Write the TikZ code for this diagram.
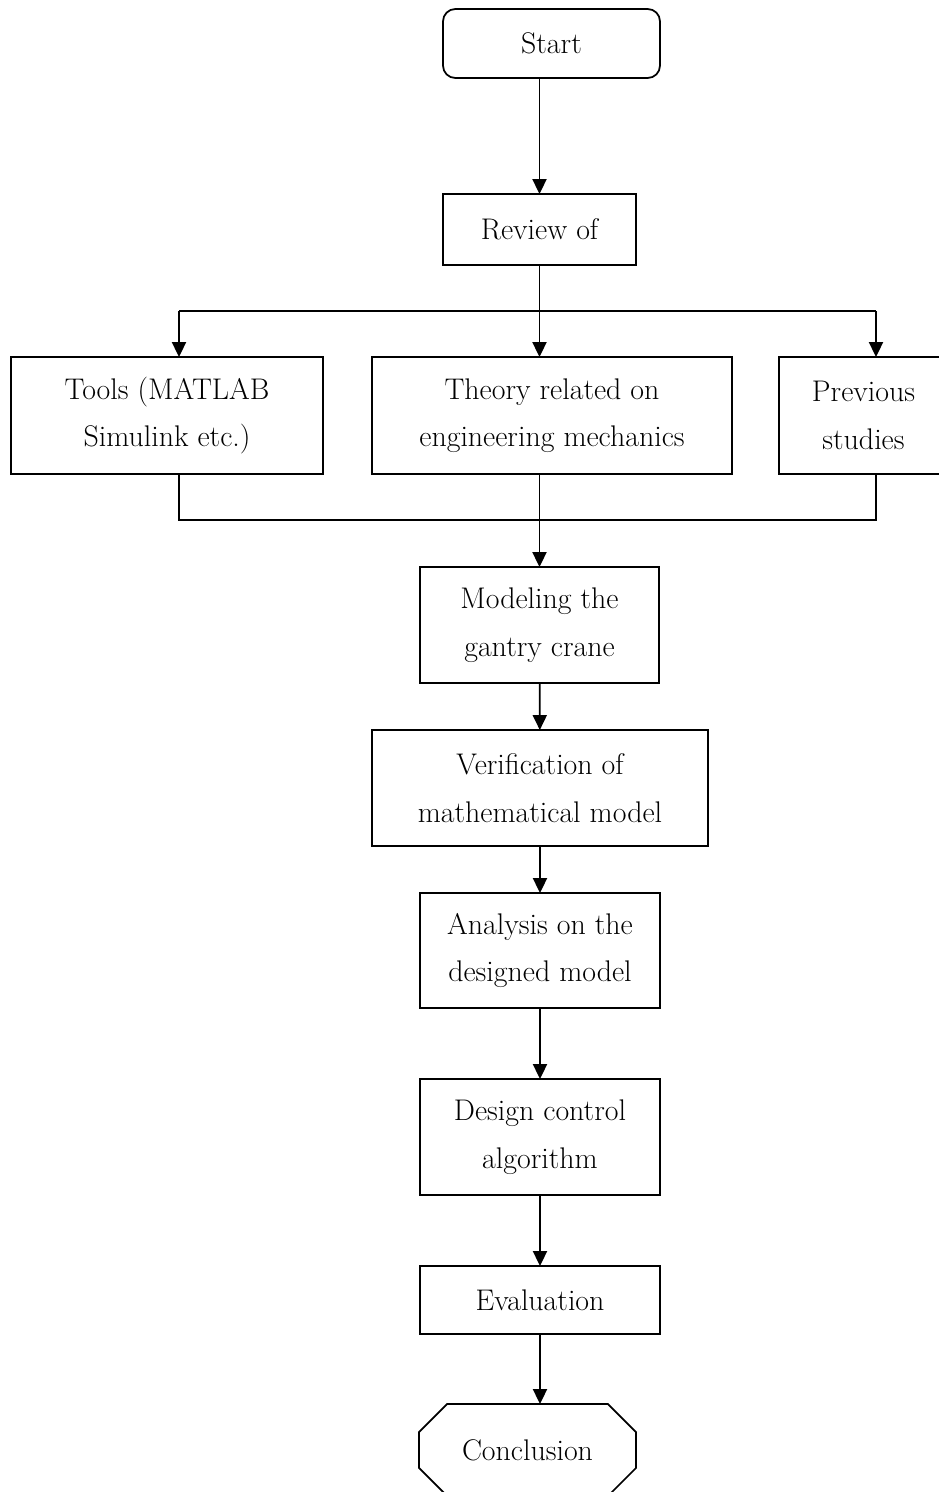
\documentclass[tikz,border=0pt]{standalone}
\usepackage{tikz}
\usetikzlibrary{arrows.meta, positioning, calc}

\tikzset{
  stepbox/.style={draw, line width=1pt, inner sep=0pt, outer sep=0pt, align=center, font=\fontsize{17}{27}\selectfont},
  flowline/.style={line width=1pt},
  flowarrow/.style={line width=1pt, -{Triangle[length=8.5pt, width=8pt]}}
}

\begin{document}
\begin{tikzpicture}[x=0.02cm, y=-0.02cm]
  \useasboundingbox (0,0) rectangle (938,1492);

  % Start and review
  \node[stepbox, rounded corners=7pt, minimum width=4.34cm, minimum height=1.38cm] (start) at (551.5, 43.5) {Start};
  \node[stepbox, minimum width=3.86cm, minimum height=1.42cm] (review) at (539.5, 229.5) {Review of};

  % Three sources
  \node[stepbox, minimum width=6.24cm, minimum height=2.34cm] (tools) at (167, 415.5) {Tools (MATLAB\\Simulink etc.)};
  \node[stepbox, minimum width=7.2cm, minimum height=2.34cm] (theory) at (552, 415.5) {Theory related on\\engineering mechanics};
  \node[stepbox, minimum width=3.38cm, minimum height=2.34cm] (prev) at (863.5, 415.5) {Previous\\studies};

  % Main chain
  \node[stepbox, minimum width=4.78cm, minimum height=2.32cm] (modeling) at (539.5, 625) {Modeling the\\gantry crane};
  \node[stepbox, minimum width=6.72cm, minimum height=2.32cm] (verify) at (540, 788) {Verification of\\mathematical model};
  \node[stepbox, minimum width=4.8cm, minimum height=2.3cm] (analysis) at (540, 950.5) {Analysis on the\\designed model};
  \node[stepbox, minimum width=4.8cm, minimum height=2.32cm] (design) at (540, 1137) {Design control\\algorithm};
  \node[stepbox, minimum width=4.8cm, minimum height=1.36cm] (eval) at (540, 1300) {Evaluation};

  % Conclusion (octagon)
  \node[align=center, inner sep=0pt, outer sep=0pt, minimum width=4.34cm, minimum height=1.84cm, font=\fontsize{17}{27}\selectfont] (concl) at (527.5, 1450) {Conclusion};
  \draw[flowline] ($(concl.north west)+(28,0)$) -- ($(concl.north east)+(-28,0)$)
    -- ($(concl.north east)+(0,28)$) -- ($(concl.south east)+(0,-28)$)
    -- ($(concl.south east)+(-28,0)$) -- ($(concl.south west)+(28,0)$)
    -- ($(concl.south west)+(0,-28)$) -- ($(concl.north west)+(0,28)$) -- cycle;

  % Fork and join points
  \coordinate (fork) at (539.5, 311);
  \coordinate (forkL) at (179, 311);
  \coordinate (forkR) at (876, 311);
  \coordinate (join) at (539.5, 520);
  \coordinate (joinL) at (179, 520);
  \coordinate (joinR) at (876, 520);

  % Connectors
  \draw[flowarrow] (review.north |- start.south) -- (review.north);
  \draw[flowline] (review.south) -- (fork);
  \draw[flowline] (forkL) -- (forkR);
  \draw[flowarrow] (forkL) -- (forkL |- tools.north);
  \draw[flowarrow] (fork) -- (fork |- theory.north);
  \draw[flowarrow] (forkR) -- (forkR |- prev.north);
  \draw[flowline] (joinL |- tools.south) -- (joinL) -- (joinR) -- (joinR |- prev.south);
  \draw[flowarrow] (join |- theory.south) -- (modeling.north);
  \draw[flowarrow] (modeling) -- (verify);
  \draw[flowarrow] (verify) -- (analysis);
  \draw[flowarrow] (analysis) -- (design);
  \draw[flowarrow] (design) -- (eval);
  \draw[flowarrow] (eval.south) -- (eval.south |- concl.north);
\end{tikzpicture}
\end{document}
